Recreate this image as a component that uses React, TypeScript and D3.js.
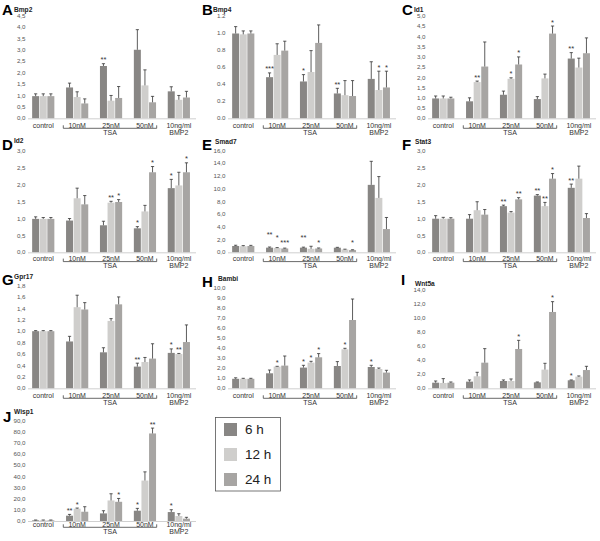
import React from "react";
import * as d3 from "d3";

const groups = ["control", "10nM", "25nM", "50nM", "10ng/ml"];
const seriesNames = ["6 h", "12 h", "24 h"];
const seriesColors = ["#888684", "#cfcecc", "#a7a5a3"];

// means [group][series], errors [group][series]
const bmp2Mean = [[0.97, 0.97, 0.97], [1.35, 0.93, 0.65], [2.29, 0.77, 0.89], [3.0, 1.44, 0.7], [1.18, 0.81, 0.91]];
const bmp2Err = [[0.1, 0.1, 0.1], [0.19, 0.23, 0.2], [0.1, 0.23, 0.5], [0.88, 0.68, 0.26], [0.2, 0.19, 0.27]];
const bmp2Stars = [[2, 0, "**"]];

const bmp4Mean = [[0.99, 0.98, 0.99], [0.48, 0.74, 0.79], [0.43, 0.54, 0.88], [0.29, 0.27, 0.26], [0.46, 0.33, 0.36]];
const bmp4Err = [[0.08, 0.04, 0.03], [0.05, 0.13, 0.11], [0.08, 0.25, 0.21], [0.06, 0.17, 0.18], [0.2, 0.22, 0.19]];
const bmp4Stars = [[1, 0, "***"], [2, 0, "*"], [3, 0, "**"], [4, 1, "*"], [4, 2, "*"]];

const id1Mean = [[0.97, 0.97, 0.97], [0.83, 1.77, 2.53], [1.15, 1.93, 2.63], [0.94, 1.95, 4.14], [2.92, 2.48, 3.18]];
const id1Err = [[0.12, 0.12, 0.06], [0.17, 0.05, 1.2], [0.18, 0.05, 0.37], [0.12, 0.21, 0.37], [0.29, 0.46, 0.75]];
const id1Stars = [[1, 1, "**"], [2, 1, "*"], [2, 2, "*"], [3, 2, "*"], [4, 0, "**"]];

const id2Mean = [[0.99, 0.99, 0.99], [0.94, 1.6, 1.42], [0.8, 1.47, 1.49], [0.71, 1.21, 2.37], [1.9, 1.98, 2.37]];
const id2Err = [[0.06, 0.04, 0.04], [0.06, 0.3, 0.26], [0.12, 0.04, 0.07], [0.05, 0.18, 0.17], [0.26, 0.39, 0.28]];
const id2Stars = [[2, 1, "**"], [2, 2, "*"], [3, 0, "*"], [3, 2, "*"], [4, 0, "*"], [4, 2, "*"]];

const smad7Mean = [[0.99, 0.95, 0.99], [0.73, 0.68, 0.6], [0.73, 0.55, 0.6], [0.72, 0.45, 0.35], [10.6, 8.55, 3.65]];
const smad7Err = [[0.12, 0.1, 0.1], [0.1, 0.06, 0.06], [0.08, 0.4, 0.08], [0.06, 0.04, 0.05], [3.7, 3.35, 1.82]];
const smad7Stars = [[1, 0, "**", 3.1], [1, 1, "*", 2.55], [1, 2, "***", 1.77], [2, 0, "**", 2.6], [2, 2, "*", 1.77], [3, 2, "*", 1.77]];

const stat3Mean = [[0.99, 0.99, 0.99], [0.99, 1.24, 1.11], [1.36, 1.17, 1.56], [1.67, 1.36, 2.17], [1.9, 2.17, 1.01]];
const stat3Err = [[0.09, 0.04, 0.03], [0.12, 0.25, 0.15], [0.03, 0.03, 0.05], [0.03, 0.11, 0.15], [0.11, 0.37, 0.13]];
const stat3Stars = [[2, 0, "**"], [2, 2, "**"], [3, 0, "**"], [3, 1, "**"], [3, 2, "*"], [4, 0, "**"]];

const gpr17Mean = [[1.0, 1.0, 1.0], [0.82, 1.42, 1.38], [0.63, 1.18, 1.47], [0.38, 0.46, 0.52], [0.62, 0.6, 0.81]];
const gpr17Err = [[0.01, 0.01, 0.01], [0.09, 0.21, 0.12], [0.08, 0.04, 0.13], [0.06, 0.08, 0.26], [0.07, 0.01, 0.3]];
const gpr17Stars = [[3, 0, "**"], [4, 0, "*"], [4, 1, "**"]];

const bambiMean = [[0.95, 0.95, 0.95], [1.5, 2.17, 2.27], [2.07, 2.57, 3.1], [2.23, 3.9, 6.83], [2.13, 1.93, 1.57]];
const bambiErr = [[0.1, 0.05, 0.05], [0.33, 0.03, 0.96], [0.23, 0.13, 0.37], [0.44, 0.1, 2.1], [0.17, 0.1, 0.23]];
const bambiStars = [[1, 1, "*"], [2, 0, "*"], [2, 1, "*"], [2, 2, "*"], [3, 1, "*"], [4, 0, "*"]];

const wnt5aMean = [[0.8, 0.76, 0.8], [0.95, 1.71, 3.65], [1.04, 1.04, 5.6], [0.85, 2.66, 10.87], [1.14, 1.66, 2.6]];
const wnt5aErr = [[0.24, 0.62, 0.1], [0.24, 0.57, 2.0], [0.15, 0.29, 1.23], [0.05, 0.9, 1.47], [0.05, 0.1, 0.53]];
const wnt5aStars = [[2, 2, "*"], [3, 2, "*"], [4, 0, "*"]];

const wisp1Mean = [[0.6, 0.6, 0.6], [4.75, 11, 8.3], [6.8, 18.4, 17.2], [9.2, 36.2, 78.4], [8, 4.45, 2.1]];
const wisp1Err = [[0.3, 0.3, 0.3], [1.15, 0.6, 4.5], [2.4, 6, 3], [2.1, 7.8, 4.8], [2.1, 2.05, 1.2]];
const wisp1Stars = [[1, 0, "**"], [1, 1, "*"], [2, 2, "*"], [3, 0, "*"], [3, 2, "**"], [4, 0, "*"]];

const panels = [
  { letter: "A", title: "Bmp2", mean: bmp2Mean, err: bmp2Err, stars: bmp2Stars, max: 4.5, step: 0.5, dot: false },
  { letter: "B", title: "Bmp4", mean: bmp4Mean, err: bmp4Err, stars: bmp4Stars, max: 1.2, step: 0.2, dot: true },
  { letter: "C", title: "Id1", mean: id1Mean, err: id1Err, stars: id1Stars, max: 5.0, step: 0.5, dot: false },
  { letter: "D", title: "Id2", mean: id2Mean, err: id2Err, stars: id2Stars, max: 3.0, step: 0.5, dot: false },
  { letter: "E", title: "Smad7", mean: smad7Mean, err: smad7Err, stars: smad7Stars, max: 16, step: 2, dot: false },
  { letter: "F", title: "Stat3", mean: stat3Mean, err: stat3Err, stars: stat3Stars, max: 3.0, step: 0.5, dot: false },
  { letter: "G", title: "Gpr17", mean: gpr17Mean, err: gpr17Err, stars: gpr17Stars, max: 1.8, step: 0.2, dot: false },
  { letter: "H", title: "Bambi", mean: bambiMean, err: bambiErr, stars: bambiStars, max: 10, step: 1, dot: false },
  { letter: "I", title: "Wnt5a", mean: wnt5aMean, err: wnt5aErr, stars: wnt5aStars, max: 14, step: 2, dot: false },
  { letter: "J", title: "Wisp1", mean: wisp1Mean, err: wisp1Err, stars: wisp1Stars, max: 90, step: 10, dot: false },
];

// layout per panel (local coordinates inside a 200x135 cell)
const layout = [
  { col: 0, row: 0, top: 15.5, bottom: 118.3, lab: 125.3, lx: 2, ly: 15, tx: 14, ty: 11.5 },
  { col: 1, row: 0, top: 15.5, bottom: 118.3, lab: 125.3, lx: 2, ly: 15, tx: 13, ty: 11.5 },
  { col: 2, row: 0, top: 16, bottom: 118.3, lab: 125.3, lx: 2, ly: 15, tx: 14, ty: 12 },
  { col: 0, row: 1, top: 16, bottom: 117.3, lab: 123.6, lx: 2, ly: 15, tx: 14, ty: 8 },
  { col: 1, row: 1, top: 15.5, bottom: 117.3, lab: 123.6, lx: 2, ly: 15, tx: 15, ty: 9 },
  { col: 2, row: 1, top: 15.5, bottom: 117.3, lab: 123.6, lx: 2, ly: 15, tx: 15, ty: 9 },
  { col: 0, row: 2, top: 15.5, bottom: 118.3, lab: 125.3, lx: 2, ly: 15, tx: 14, ty: 9 },
  { col: 1, row: 2, top: 18.3, bottom: 118.3, lab: 125.3, lx: 2, ly: 17, tx: 18, ty: 11 },
  { col: 2, row: 2, top: 20, bottom: 118.3, lab: 125.3, lx: 1, ly: 15, tx: 15, ty: 16 },
  { col: 0, row: 3, top: 15.5, bottom: 116, lab: 119.3, lx: 3, ly: 17, tx: 14, ty: 9 },
];

const FONT = "'Liberation Sans', Arial, Helvetica, sans-serif";

function Panel({ p, l }: { p: any; l: any }) {
  const x = d3.scaleBand().domain(groups).range([26.3, 195.8]);
  const y = d3.scaleLinear().domain([0, p.max]).range([l.bottom, l.top]);
  const ticks = d3.range(0, p.max + p.step / 2, p.step);
  const fmt = (v: number) => {
    const s = d3.format(".1f")(v);
    return p.dot ? s : s.replace(".", ",");
  };
  const barW = 7;
  const off = 7.6;
  const cx = (gi: number, si: number) => (x(groups[gi]) as number) + x.bandwidth() / 2 + (si - 1) * off;
  const tsaLeft = 63.3;
  const tsaRight = 156.7;
  const brY = l.lab + 3;
  return (
    <g transform={`translate(${l.col * 200},${l.row * 135})`}>
      <text x={l.lx} y={l.ly} fontFamily={FONT} fontWeight="bold" fontSize={15} fill="#000">{p.letter}</text>
      <text x={l.tx} y={l.ty} fontFamily={FONT} fontWeight="bold" fontSize={6.6} fill="#222">{p.title}</text>
      {ticks.map((t: number) => (
        <text key={t} x={25.5} y={y(t)} dy="0.35em" textAnchor="end" fontFamily={FONT} fontSize={6.2} fill="#555">{fmt(t)}</text>
      ))}
      {p.mean.map((row: number[], gi: number) =>
        row.map((v: number, si: number) => {
          const c = cx(gi, si);
          const top = y(v + p.err[gi][si]);
          return (
            <g key={`${gi}-${si}`}>
              <rect x={c - barW / 2} y={y(v)} width={barW} height={y(0) - y(v)} fill={seriesColors[si]} />
              <line x1={c} x2={c} y1={y(v)} y2={top} stroke="#333" strokeWidth={0.8} />
              <line x1={c - 1.6} x2={c + 1.6} y1={top} y2={top} stroke="#333" strokeWidth={0.8} />
            </g>
          );
        })
      )}
      <line x1={28} x2={196} y1={y(0) + 0.5} y2={y(0) + 0.5} stroke="#c4c4c4" strokeWidth={0.8} />
      {p.stars.map((s: any, i: number) => {
        const gi = s[0], si = s[1];
        const yy = s.length > 3 ? y(s[3]) + 4 : y(p.mean[gi][si] + p.err[gi][si]) - 1.5;
        return (
          <text key={i} x={cx(gi, si)} y={yy} textAnchor="middle" fontFamily={FONT} fontSize={7.5} fill="#333">{s[2]}</text>
        );
      })}
      {groups.map((g) => (
        <text key={g} x={(x(g) as number) + x.bandwidth() / 2} y={l.lab} dy="0.35em" textAnchor="middle" fontFamily={FONT} fontSize={7} fill="#333">{g}</text>
      ))}
      <path d={`M${tsaLeft},${brY - 3}V${brY}H${tsaRight}V${brY - 3}`} fill="none" stroke="#444" strokeWidth={0.8} />
      <text x={(tsaLeft + tsaRight) / 2} y={l.lab + 6.8} dy="0.35em" textAnchor="middle" fontFamily={FONT} fontSize={7} fill="#333">TSA</text>
      <text x={(x(groups[4]) as number) + x.bandwidth() / 2} y={l.lab + 6.8} dy="0.35em" textAnchor="middle" fontFamily={FONT} fontSize={7} fill="#333">BMP2</text>
    </g>
  );
}

export default function App() {
  return (
    <svg width={600} height={541} style={{ position: "absolute", left: 0, top: 0, background: "#fff" }}>
      <rect width={600} height={541} fill="#fff" />
      {panels.map((p, i) => (
        <Panel key={p.letter} p={p} l={layout[i]} />
      ))}
      <g>
        <rect x={215.5} y={417.5} width={65} height={73.5} fill="#fff" stroke="#555" strokeWidth={0.8} />
        {seriesNames.map((s, i) => (
          <g key={s}>
            <rect x={224} y={423 + i * 25} width={13} height={13} fill={seriesColors[i]} />
            <text x={245} y={434.3 + i * 25} fontFamily={FONT} fontSize={13.5} fill="#222">{s}</text>
          </g>
        ))}
      </g>
    </svg>
  );
}
